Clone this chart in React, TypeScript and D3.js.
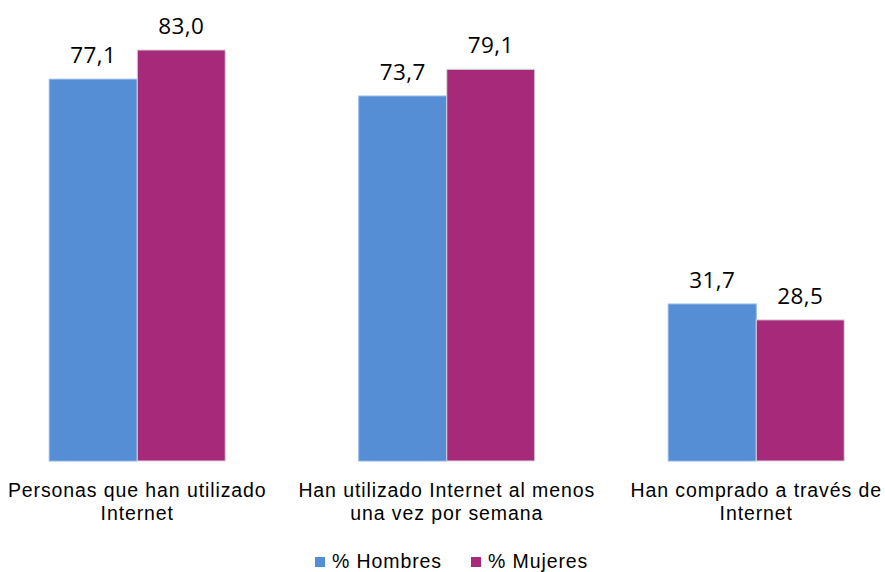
import React from "react";
import * as d3 from "d3";

const categories = [
  ["Personas que han utilizado", "Internet"],
  ["Han utilizado Internet al menos", "una vez por semana"],
  ["Han comprado a través de", "Internet"],
];
const seriesNames = ["% Hombres", "% Mujeres"];
const hombres = [77.1, 73.7, 31.7];
const mujeres = [83.0, 79.1, 28.5];
const colors = ["#558ED5", "#A6297A"];

const W = 885;
const H = 572;

export default function App() {
  const values = [hombres, mujeres];
  const x = d3
    .scaleBand<number>()
    .domain(categories.map((_, i) => i))
    .range([-17.5, 911])
    .paddingInner(0)
    .paddingOuter(0);
  const groupW = 176;
  const xs = d3
    .scaleBand<number>()
    .domain([0, 1])
    .range([0, groupW]);
  const y = d3.scaleLinear().domain([0, 90]).range([461, 461 - 90 * 4.952]);
  const fmt = (v: number) => v.toFixed(1).replace(".", ",");
  const font = "'Liberation Sans', Arial, sans-serif";

  return (
    <svg
      width={W}
      height={H}
      style={{ position: "absolute", left: 0, top: 0, background: "#fff" }}
    >
      {categories.map((cat, i) => {
        const cx = (x(i) as number) + x.bandwidth() / 2;
        const gx = cx - groupW / 2;
        return (
          <g key={i}>
            {values.map((ser, s) => {
              const v = ser[i];
              const bx = gx + (xs(s) as number);
              return (
                <g key={s}>
                  <rect
                    x={bx}
                    y={y(v)}
                    width={xs.bandwidth()}
                    height={y(0) - y(v)}
                    fill={colors[s]}
                    stroke={s === 0 ? "#8fb4e6" : "#d9d9d9"}
                    strokeWidth={1}
                  />
                  <text
                    x={bx + xs.bandwidth() / 2}
                    y={y(v) - 16}
                    textAnchor="middle"
                    fontFamily="'Open Sans', sans-serif"
                    fontSize={22.5}
                    letterSpacing={0.4}
                    fill="#000"
                  >
                    {fmt(v)}
                  </text>
                </g>
              );
            })}
            {cat.map((line, l) => (
              <text
                key={l}
                x={cx}
                y={497 + l * 23}
                textAnchor="middle"
                fontFamily={font}
                fontSize={19.5}
                letterSpacing={0.9}
                fill="#000"
              >
                {line}
              </text>
            ))}
          </g>
        );
      })}
      {seriesNames.map((name, s) => {
        const lx = s === 0 ? 315 : 471;
        return (
          <g key={name}>
            <rect x={lx} y={557} width={10} height={10} fill={colors[s]} />
            <text
              x={lx + 17}
              y={567.5}
              fontFamily={font}
              fontSize={19.5}
              letterSpacing={0.9}
              fill="#000"
            >
              {name}
            </text>
          </g>
        );
      })}
    </svg>
  );
}
